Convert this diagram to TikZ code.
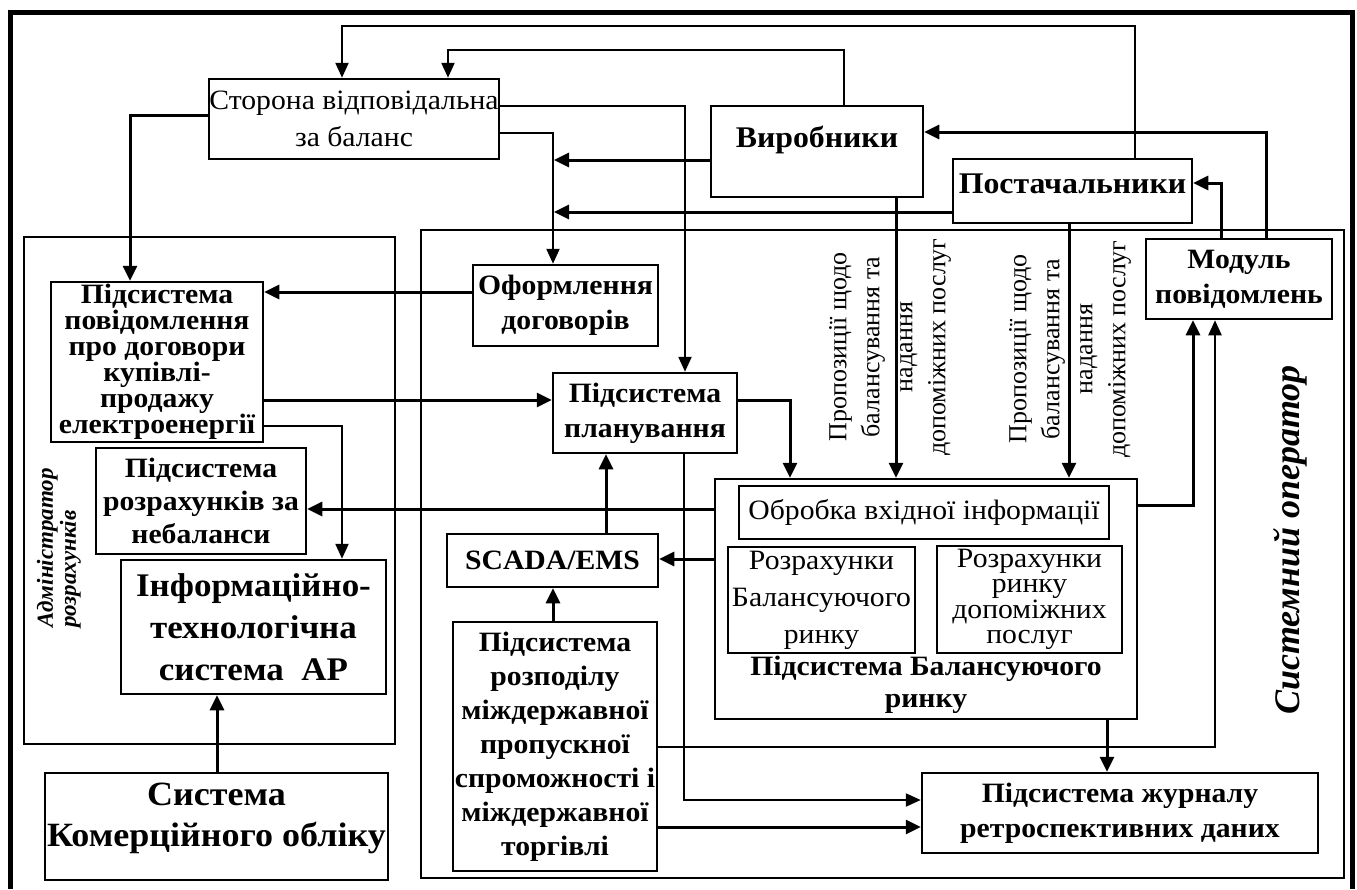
\documentclass[tikz,border=0pt]{standalone}
\usepackage{fontspec}
\setmainfont{Liberation Serif}[FakeStretch=1.06]
\newfontfamily\vfont{Liberation Serif}
\usetikzlibrary{arrows.meta}
\tikzset{
  bx/.style={draw, line width=2.5pt, inner sep=0pt, align=center},
  fr/.style={draw, line width=2.2pt, inner sep=0pt},
  thin/.style={line width=2.3pt, -{Triangle[length=15pt,width=13pt]}},
  thick/.style={line width=3pt, -{Triangle[length=15pt,width=14pt]}},
  rg/.style={font=\fontsize{28}{37}\selectfont},
  bd/.style={font=\fontsize{28}{35}\selectfont\bfseries},
  vt/.style={rotate=90, align=center, font=\vfont\fontsize{26}{33}\selectfont},
}
\begin{document}
\begin{tikzpicture}[x=1pt,y=-1pt]
\useasboundingbox (0,0) rectangle (1357,889);
\draw[line width=5pt] (10,889) -- (10,12.5) -- (1352,12.5) -- (1352,889);
% frames
\node[fr, minimum width=371, minimum height=507] (adm) at (209.5,490.5) {};
\node[fr, minimum width=923, minimum height=648] (so) at (882.5,554) {};
\node[rotate=90, align=left, font=\vfont\fontsize{23}{23}\selectfont\bfseries\itshape] (admt) at (59,548) {Адміністратор\\розрахунків};
\node[rotate=90, font=\vfont\fontsize{36}{36}\selectfont\bfseries\itshape] (sot) at (1290,540) {Системний оператор};
% boxes
\node[bx, rg, minimum width=290, minimum height=80] (sb) at (354,119) {Сторона відповідальна\\за баланс};
\node[bx, minimum width=212, minimum height=91] (vyr) at (817,151.5) {};
\node[font=\fontsize{30}{30}\selectfont\bfseries] (vyrt) at (817,140) {Виробники};
\node[bx, minimum width=239, minimum height=64] (post) at (1072.5,191) {};
\node[font=\fontsize{30}{30}\selectfont\bfseries] (postt) at (1072.5,184) {Постачальники};
\node[bx, bd, minimum width=186, minimum height=80] (mod) at (1239,279) {Модуль\\повідомлень};
\node[bx, font=\fontsize{28}{26}\selectfont\bfseries, minimum width=212, minimum height=160] (pov) at (157,362) {Підсистема\\повідомлення\\про договори\\купівлі-\\продажу\\електроенергії};
\node[bx, font=\fontsize{28}{33}\selectfont\bfseries, minimum width=210, minimum height=106] (rozr) at (201,501) {Підсистема\\розрахунків за\\небаланси};
\node[bx, font=\fontsize{33}{42}\selectfont\bfseries, minimum width=265, minimum height=134] (info) at (253.5,627) {Інформаційно-\\технологічна\\система\ \ АР};
\node[bx, minimum width=343, minimum height=107] (kom) at (216.5,826.5) {};
\node[font=\fontsize{34}{41}\selectfont\bfseries, align=center] (komt) at (216.5,818) {Система\\Комерційного обліку};
\node[bx, bd, minimum width=185, minimum height=81] (ofo) at (565.5,305.5) {Оформлення\\договорів};
\node[bx, bd, minimum width=184, minimum height=80] (plan) at (645,413) {Підсистема\\планування};
\node[bx, bd, minimum width=211, minimum height=53] (scada) at (552.5,560.5) {SCADA/EMS};
\node[bx, font=\fontsize{28}{34}\selectfont\bfseries, minimum width=204, minimum height=249] (rozp) at (555,746.5) {Підсистема\\розподілу\\міждержавної\\пропускної\\спроможності і\\міждержавної\\торгівлі};
\node[bx, minimum width=422, minimum height=240] (bal) at (926,599) {};
\node[bx, rg, minimum width=370, minimum height=53] (obr) at (924,512.5) {Обробка вхідної інформації};
\node[bx, rg, minimum width=187, minimum height=106] (rbr) at (821.5,600) {Розрахунки\\Балансуючого\\ринку};
\node[bx, font=\fontsize{28}{25.5}\selectfont, minimum width=185, minimum height=107] (rdp) at (1029.5,599.5) {Розрахунки\\ринку\\допоміжних\\послуг};
\node[font=\fontsize{28}{32}\selectfont\bfseries, align=center] (balt) at (926,685) {Підсистема Балансуючого\\ринку};
\node[bx, bd, minimum width=396, minimum height=80] (jur) at (1120,813) {Підсистема журналу\\ретроспективних даних};
% vertical labels
\node[vt] (pr1) at (890,347) {Пропозиції щодо\\балансування та\\надання\\допоміжних послуг};
\node[vt] (pr2) at (1070,349) {Пропозиції щодо\\балансування та\\надання\\допоміжних послуг};
% connectors
\draw[thin] (post.north -| 1135,0) -- (1135,26) -| (sb.north -| 342,0);
\draw[thin] (vyr.north -| 844,0) -- (844,50) -| (sb.north -| 448,0);
\draw[thick] (sb.west |- 0,115) -| (pov.north -| 130,0);
\draw[thin] (sb.east |- 0,106) -| (plan.north -| 685,0);
\draw[thin] (sb.east |- 0,133) -| (ofo.north -| 553,0);
\draw[thick] (vyr.west |- 0,160) -- (554,160);
\draw[thick] (post.west |- 0,212) -- (554,212);
\draw[thick] (vyr.south -| 896,0) -- (bal.north -| 896,0);
\draw[thick] (post.south -| 1069,0) -- (bal.north -| 1069,0);
\draw[thick] (mod.north -| 1221,0) |- (post.east |- 0,183);
\draw[thick] (mod.north -| 1266,0) |- (vyr.east |- 0,132);
\draw[thick] (ofo.west |- 0,292) -- (pov.east |- 0,292);
\draw[thick] (pov.east |- 0,400) -- (plan.west |- 0,400);
\draw[thin] (pov.east |- 0,426) -| (info.north -| 342,0);
\draw[thick] (bal.west |- 0,509) -- (rozr.east |- 0,509);
\draw[thick] (bal.west |- 0,559) -- (scada.east |- 0,559);
\draw[thick] (scada.north -| 606,0) -- (plan.south -| 606,0);
\draw[thick] (rozp.north -| 553,0) -- (scada.south -| 553,0);
\draw[thick] (plan.east |- 0,400) -| (bal.north -| 790,0);
\draw[thin] (plan.south -| 684,0) |- (jur.west |- 0,800);
\draw[thick] (rozp.east |- 0,827) -- (jur.west |- 0,827);
\draw[thin] (rozp.east |- 0,747) -| (mod.south -| 1215,0);
\draw[thick] (bal.east |- 0,505) -| (mod.south -| 1193,0);
\draw[thick] (bal.south -| 1107,0) -- (jur.north -| 1107,0);
\draw[thick] (kom.north -| 217,0) -- (info.south -| 217,0);
\end{tikzpicture}
\end{document}
